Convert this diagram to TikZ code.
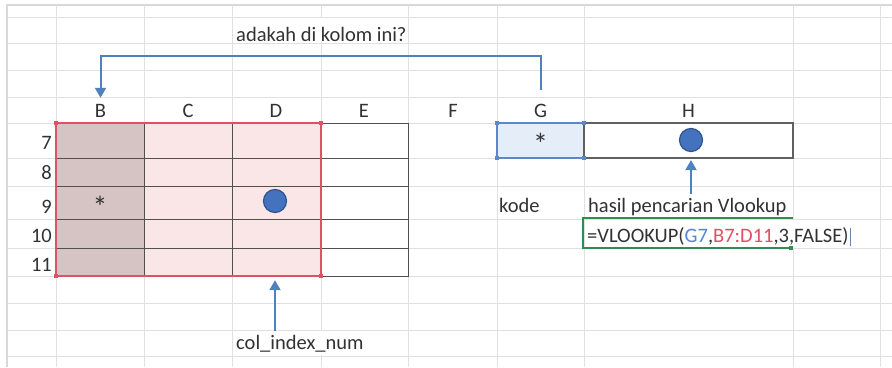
\documentclass[tikz,border=0pt]{standalone}
\usepackage{fontspec}
\setmainfont{Carlito}
\usetikzlibrary{arrows.meta}
\definecolor{gridc}{RGB}{224,224,224}
\definecolor{txt}{RGB}{50,50,50}
\definecolor{tline}{RGB}{80,80,80}
\definecolor{redb}{RGB}{221,82,100}
\definecolor{pinkB}{RGB}{214,196,197}
\definecolor{pinkC}{RGB}{250,230,231}
\definecolor{blueb}{RGB}{90,136,200}
\definecolor{bluef}{RGB}{229,237,248}
\definecolor{arrc}{RGB}{79,129,189}
\definecolor{dotf}{RGB}{68,114,190}
\definecolor{dotd}{RGB}{45,85,140}
\definecolor{greenb}{RGB}{50,140,80}
\definecolor{fG}{RGB}{86,134,208}
\definecolor{fR}{RGB}{226,78,98}
\tikzset{
  lbl/.style={inner sep=0pt, text=txt, font=\fontsize{20.5}{24}\selectfont},
  star/.style={inner sep=0pt, anchor=base, text=txt, font=\fontsize{30}{32}\selectfont},
  hdr/.style={inner sep=0pt, minimum height=26pt, text=txt, font=\fontsize{20.5}{24}\selectfont},
  rownum/.style={inner sep=0pt, anchor=base east, text=txt, font=\fontsize{20.5}{24}\selectfont},
  dot/.style={circle, fill=dotf, draw=dotd, line width=1.2pt, minimum size=23pt, inner sep=0pt},
  arr/.style={draw=arrc, line width=2pt, -{Triangle[width=11pt,length=10pt]}},
  cellbox/.style={inner sep=0pt, minimum width=89pt, minimum height=28pt}
}
\begin{document}
\begin{tikzpicture}[x=1pt,y=-1pt]
\useasboundingbox (0,0) rectangle (892,367);
\fill[white] (0,0) rectangle (892,367);
% sheet grid
\foreach \y in {17,43,70,97,123,158,186,219,248,276,303,330,356}
  \draw[gridc, line width=1pt] (7,\y) -- (892,\y);
\foreach \x in {56,144,232,321,408,497,584,793,880}
  \draw[gridc, line width=1pt] (\x,5) -- (\x,367);
\draw[gray!30, line width=1.6pt] (7,367) -- (7,5) -- (892,5);
% hide lines under overflowing text
\fill[white] (319.5,18) rectangle (322.5,42);
\fill[white] (319.5,331) rectangle (322.5,355);
\fill[white] (791.5,219.5) rectangle (794.5,247);
% table B7:E11
\fill[pinkB] (56,123) rectangle (144,276);
\fill[pinkC] (144,123) rectangle (321,276);
\fill[white] (321,123) rectangle (408,276);
\foreach \y in {158,186,219,248} \draw[tline, line width=1pt] (56,\y) -- (408,\y);
\foreach \x in {144,232} \draw[tline, line width=1pt] (\x,123) -- (\x,276);
\draw[tline, line width=1pt] (321,123) rectangle (408,276);
\draw[redb, line width=1.5pt] (56,123) rectangle (321,276);
\foreach \p in {(56,123),(321,123),(56,276),(321,276)}
  \fill[redb] \p ++(-2,-2) rectangle ++(4,4);
\node[cellbox] (D11) at (276.5,262) {};
% G7 and H7
\node[draw=blueb, fill=bluef, line width=1.4pt, minimum width=87pt, minimum height=35pt, inner sep=0pt] (G7) at (540.5,140.5) {};
\node[draw=gray!75!black, line width=1.4pt, minimum width=209pt, minimum height=35pt, inner sep=0pt] (H7) at (688.5,140.5) {};
\foreach \p in {(497,123),(584,123),(497,158),(584,158)}
  \fill[blueb] \p ++(-2,-2) rectangle ++(4,4);
% column headers
\node[hdr] (hB) at (100.5,111) {B};
\node[hdr] (hC) at (188,111) {C};
\node[hdr] (hD) at (276,111) {D};
\node[hdr] (hE) at (364,111) {E};
\node[hdr] (hF) at (453,111) {F};
\node[hdr] (hG) at (540.5,111) {G};
\node[hdr] (hH) at (688.5,111) {H};
% row numbers
\node[rownum] (r7) at (52,149) {7};
\node[rownum] (r8) at (52,179) {8};
\node[rownum] (r9) at (52,213) {9};
\node[rownum] (r10) at (52,242) {10};
\node[rownum] (r11) at (52,271) {11};
% contents
\node[star] (sB) at (100,217.5) {*};
\node[star] (sG) at (540.5,154.5) {*};
\node[dot] (Dc) at (275,201) {};
\node[dot] (Hc) at (691,140) {};
% labels
\node[lbl, anchor=base west] (q) at (236,41) {adakah di kolom ini?};
\node[lbl, anchor=base west] (col) at (236,349) {col\_index\_num};
\node[lbl, anchor=base west] (kode) at (499,212) {kode};
\node[lbl, anchor=base west] (hasil) at (588,212) {hasil pencarian Vlookup};
\draw[greenb, line width=1.5pt] (793,218) -- (583,218) -- (583,248) -- (793,248);
\fill[greenb] (791,248) ++(-2,-2) rectangle ++(4,4);
\node[lbl, anchor=base west] (fml) at (587,242) {=VLOOKUP(\textcolor{fG}{G7},\textcolor{fR}{B7:D11},3,FALSE)};
\draw[blueb!60!gray, line width=0.8pt] ([xshift=2pt]fml.east |- 0,228) -- ([xshift=2pt]fml.east |- 0,246);
% connectors
\draw[arr, shorten <=8pt] (hG.north) -- ++(0,-42) -| (hB.north);
\draw[arr, shorten <=4pt, shorten >=4pt] (col.north -| Dc.south) -- (D11.south -| Dc.south);
\draw[arr, shorten <=4pt, shorten >=8pt] (hasil.north -| Hc.south) -- (Hc.south);
\end{tikzpicture}
\end{document}
